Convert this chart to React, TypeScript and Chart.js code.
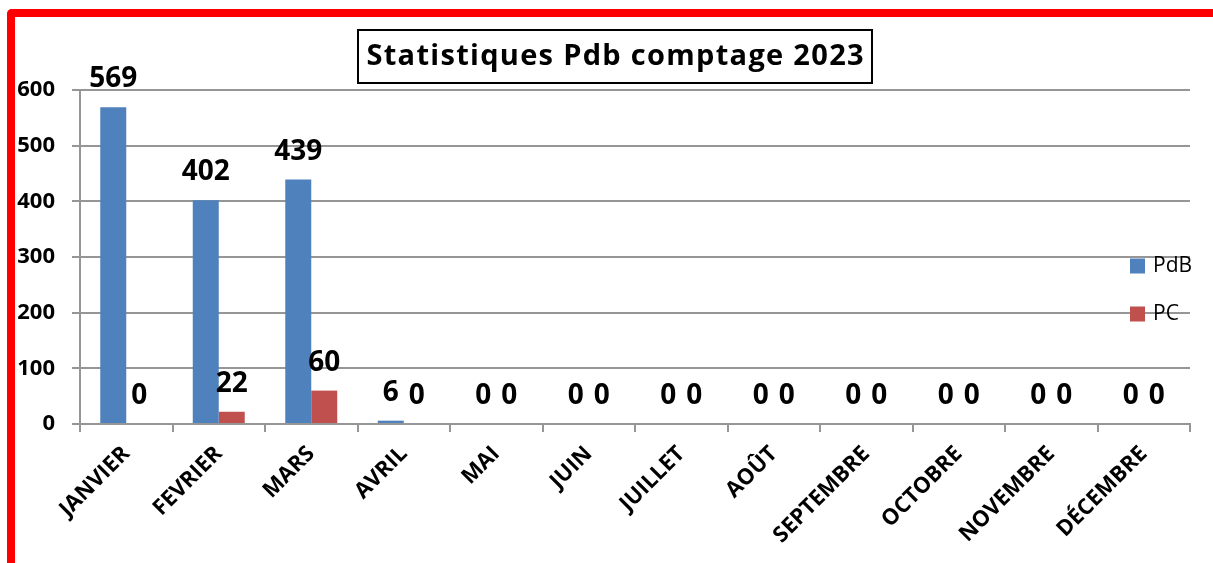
import React, { useEffect, useRef } from "react";
import { Chart, registerables } from "chart.js";

Chart.register(...registerables);

const MONTHS = ["JANVIER", "FEVRIER", "MARS", "AVRIL", "MAI", "JUIN", "JUILLET", "AOÛT", "SEPTEMBRE", "OCTOBRE", "NOVEMBRE", "DÉCEMBRE"];
const PDB = [569, 402, 439, 6, 0, 0, 0, 0, 0, 0, 0, 0];
const PC = [0, 22, 60, 0, 0, 0, 0, 0, 0, 0, 0, 0];
const SERIES_NAMES = ["PdB", "PC"];
const TITLE = "Statistiques Pdb comptage 2023";
const Y_MIN = 0;
const Y_MAX = 600;
const Y_STEP = 100;

const BLUE = "#4F81BD";
const RED = "#C0504D";
const GRID = "#969696";
const FONT = "'Open Sans', Lato, sans-serif";

const overlayPlugin = {
  id: "overlay",
  afterDatasetsDraw(chart: any) {
    const ctx = chart.ctx;
    ctx.save();
    // data labels
    ctx.fillStyle = "#000";
    ctx.font = `700 28px ${FONT}`;
    ctx.textAlign = "center";
    ctx.textBaseline = "alphabetic";
    chart.data.datasets.forEach((ds: any, di: number) => {
      const meta = chart.getDatasetMeta(di);
      meta.data.forEach((el: any, i: number) => {
        ctx.fillText(String(ds.data[i]), el.x, el.y - 20);
      });
    });
    // legend
    const area = chart.chartArea;
    const lx = area.right - 60;
    const ly0 = area.top + 176;
    ctx.font = `400 21px ${FONT}`;
    ctx.textAlign = "left";
    ctx.textBaseline = "middle";
    chart.data.datasets.forEach((ds: any, di: number) => {
      const cy = ly0 + di * 48;
      ctx.fillStyle = ds.backgroundColor;
      ctx.fillRect(lx, cy - 7.5, 15, 15);
      ctx.fillStyle = "#000";
      ctx.fillText(ds.label, lx + 23, cy);
    });
    // title box
    const cx = area.left + 535;
    const bw = 514;
    const bh = 53;
    const by = 30;
    ctx.fillStyle = "#fff";
    ctx.fillRect(cx - bw / 2, by, bw, bh);
    ctx.strokeStyle = "#000";
    ctx.lineWidth = 2;
    ctx.strokeRect(cx - bw / 2, by, bw, bh);
    ctx.fillStyle = "#000";
    ctx.font = `700 29px ${FONT}`;
    ctx.textAlign = "center";
    ctx.textBaseline = "middle";
    const ls = 1.3;
    (ctx as any).letterSpacing = `${ls}px`;
    ctx.fillText(TITLE, cx + ls / 2, by + bh / 2);
    (ctx as any).letterSpacing = "0px";
    ctx.restore();
  },
};

export default function App() {
  const ref = useRef<HTMLCanvasElement>(null);
  useEffect(() => {
    document.body.style.margin = "0";
    document.body.style.overflow = "hidden";
    const chart = new Chart(ref.current!, {
      type: "bar",
      data: {
        labels: MONTHS,
        datasets: [
          { label: SERIES_NAMES[0], data: PDB, backgroundColor: BLUE, borderWidth: 0 },
          { label: SERIES_NAMES[1], data: PC, backgroundColor: RED, borderWidth: 0 },
        ],
      },
      options: {
        responsive: false,
        animation: false,
        layout: { padding: { left: 0, top: 90, right: 23, bottom: 0 } },
        datasets: { bar: { barPercentage: 1, categoryPercentage: 0.562 } },
        plugins: { legend: { display: false }, title: { display: false }, tooltip: { enabled: false } },
        scales: {
          x: {
            grid: { display: true, drawOnChartArea: false, drawTicks: true, tickLength: 8, color: GRID, lineWidth: 2, offset: true },
            border: { display: true, color: GRID, width: 2 },
            ticks: {
              color: "#000",
              font: { family: FONT, weight: "bold", size: 22 },
              minRotation: 45,
              maxRotation: 45,
              padding: 9,
              autoSkip: false,
            },
            afterFit: (s: any) => { s.height = 139; },
          },
          y: {
            min: Y_MIN,
            max: Y_MAX,
            grid: { color: GRID, lineWidth: 2, tickLength: 8 },
            border: { display: true, color: GRID, width: 2 },
            ticks: {
              stepSize: Y_STEP,
              color: "#000",
              font: { family: FONT, weight: "bold", size: 22 },
              padding: 17,
            },
            afterFit: (s: any) => { s.width = 80; },
          },
        },
      },
      plugins: [overlayPlugin],
    });
    return () => chart.destroy();
  }, []);
  return (
    <div style={{ position: "relative", width: 1213, height: 563, background: "#fff", overflow: "hidden" }}>
      <canvas ref={ref} width={1213} height={563} style={{ position: "absolute", left: 0, top: 0 }} />
      <div
        style={{
          position: "absolute",
          left: 7,
          top: 9,
          width: 1300,
          height: 700,
          borderTop: "8px solid #FF0000",
          borderLeft: "8px solid #FF0000",
          borderTopLeftRadius: 5,
          boxSizing: "border-box",
          pointerEvents: "none",
        }}
      />
    </div>
  );
}
